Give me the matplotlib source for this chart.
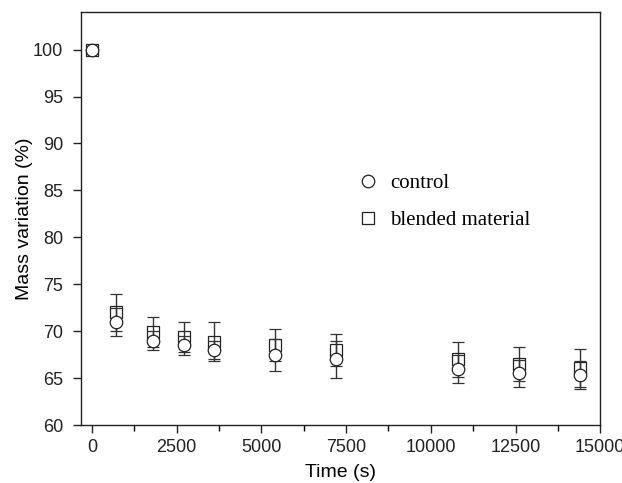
import matplotlib
matplotlib.use("Agg")
import matplotlib.pyplot as plt
from matplotlib.ticker import MultipleLocator

# data
time_s = [0, 720, 1800, 2700, 3600, 5400, 7200, 10800, 12600, 14400]
control = [100, 71.0, 69.0, 68.5, 68.0, 67.5, 67.0, 66.0, 65.5, 65.3]
control_err = [0, 1.5, 1.0, 1.0, 1.0, 1.7, 2.0, 1.5, 1.4, 1.5]
blended = [100, 72.0, 69.9, 69.4, 68.9, 68.5, 68.0, 67.0, 66.5, 66.1]
blended_err = [0, 2.0, 1.6, 1.6, 2.1, 1.7, 1.75, 1.9, 1.8, 2.0]

plt.rcParams['font.family'] = ['Liberation Sans', 'DejaVu Sans']

fig = plt.figure(figsize=(6.22, 4.83), dpi=100)
ax = fig.add_axes([0.130, 0.120, 0.835, 0.855])

ax.errorbar(time_s, blended, yerr=blended_err, fmt='s', ms=9, mfc='none',
            mec='#222222', mew=0.9, ecolor='#333333', elinewidth=1.0,
            capsize=4, capthick=1.0, label='blended material', zorder=3)
ax.errorbar(time_s, control, yerr=control_err, fmt='o', ms=9, mfc='white',
            mec='#222222', mew=0.9, ecolor='#333333', elinewidth=1.0,
            capsize=4, capthick=1.0, label='control', zorder=4)

ax.set_xlim(-330, 15000)
ax.set_ylim(60, 104)
ax.xaxis.set_major_locator(MultipleLocator(2500))
ax.xaxis.set_minor_locator(MultipleLocator(1250))
ax.yaxis.set_major_locator(MultipleLocator(5))

ax.tick_params(axis='both', which='major', direction='out', length=5.8,
               width=1.0, labelsize=13, colors='#222222')
ax.tick_params(axis='y', which='major', pad=7)
ax.tick_params(axis='x', which='major', pad=4.5)
ax.tick_params(axis='x', which='minor', direction='out', length=4, width=1.0)
for s in ax.spines.values():
    s.set_linewidth(1.0)
    s.set_color('#222222')

ax.set_xlabel('Time (s)', fontsize=14, labelpad=5.5)
ax.set_ylabel('Mass variation (%)', fontsize=14, labelpad=0)

h, l = ax.get_legend_handles_labels()
h = [hh[0] for hh in h]
leg = ax.legend(h[::-1], l[::-1], loc='upper left', bbox_to_anchor=(0.497, 0.655),
                frameon=False, handlelength=1.0, handletextpad=0.55,
                labelspacing=0.85, prop={'family': 'Liberation Serif', 'size': 15})

fig.savefig('out.png', dpi=100)
